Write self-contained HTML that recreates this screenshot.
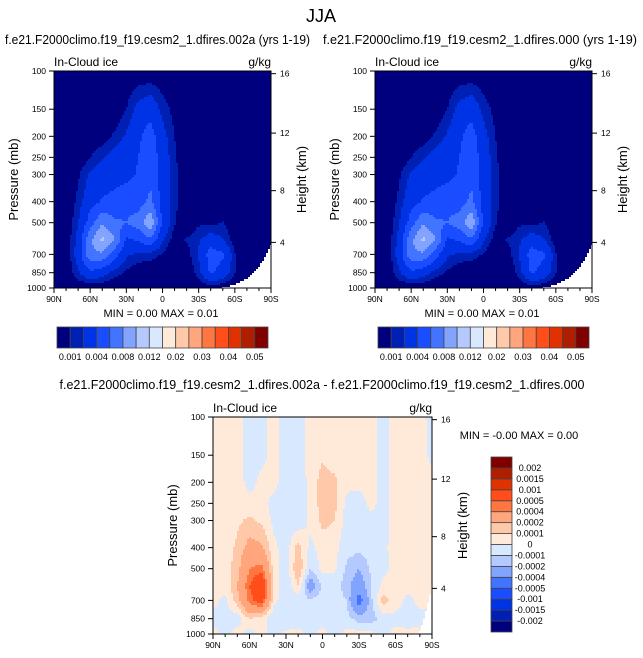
<!DOCTYPE html>
<html><head><meta charset="utf-8">
<style>
html,body{margin:0;padding:0;background:#fff;}
svg{display:block;font-family:"Liberation Sans",Arial,sans-serif;}
</style></head>
<body>
<svg id="chart" width="643" height="658" viewBox="0 0 643 658">
<text x="321" y="22" font-size="18" text-anchor="middle">JJA</text>
<g id="root"></g>
</svg>
<script>
// ---- data ----
const lats = [90,80,70,60,50,40,30,20,10,0,-10,-20,-30,-40,-50,-60,-70,-80,-90];
const levels = [100,150,200,250,300,400,500,600,700,850,1000];
// In-cloud ice, units of 1e-3 g/kg (rows = levels, cols = lats)
const iceField = [
 [0,0,0,0,0,0,0,0,0,0,0,0,0,0,0,0,0,0,0],
 [0,0,0,0,0,0,1.0,2.6,3.2,1.6,0.6,0,0,0,0,0,0,0,0],
 [0,0,0,0,0.4,1.2,2.2,3.6,5.0,2.6,1.0,0,0,0,0,0,0,0,0],
 [0,0,0,1.0,1.8,2.6,3.2,4.0,5.4,3.0,1.2,0,0,0,0,0,0,0,0],
 [0,0,0.8,2.2,3.0,3.2,3.4,4.2,5.4,3.0,1.4,0,0,0,0,0,0,0,0],
 [0,0,1.3,3.2,4.2,4.6,5.4,5.0,6.6,3.2,1.4,0,0,0,0,0,0,0,0],
 [0,0,1.9,5.0,7.8,6.4,6.0,7.0,9.8,3.6,1.1,0,0.8,0.6,1.1,0,0,0,0],
 [0,0,2.6,7.6,10.5,8.2,3.6,4.2,5.6,2.2,0.4,1.1,1.8,2.9,2.1,0.4,0,0,0],
 [0,0,2.8,7.6,7.6,5.0,2.2,1.8,1.5,0.9,0,0.4,2.2,5.0,4.3,1.1,0,0,0],
 [0,0,1.8,3.6,2.8,1.5,0.8,0,0,0,0,0,1.5,4.3,3.2,1.1,0,0,0],
 [0,0,0,0,0,0,0,0,0,0,0,0,0,0.4,0,0,0,0,0]
];
// Difference, units of 1e-4 g/kg
const diffField = [
 [0.5,0.5,0.5,-0.5,-0.5,0.5,-0.5,-0.5,0.5,0.5,0.5,0.5,0.5,0.5,-0.5,0.5,0.5,0.5,-0.5],
 [0.5,0.5,0.4,-0.5,-0.3,0.3,-0.5,-0.6,0.5,0.8,0.5,0.5,0.5,0.4,-0.5,0.5,0.5,0.5,-0.3],
 [0.5,0.5,0.5,-0.4,0.3,0.3,-0.5,-0.6,0.3,1.5,1.2,0.3,0.3,0.4,-0.5,0.5,0.5,0.5,0.5],
 [0.5,0.5,0.6,0.4,0.3,-0.3,-0.6,-0.8,0.2,1.5,1.3,-0.3,-0.5,0.3,-0.4,0.5,0.5,0.5,0.5],
 [0.5,0.5,0.8,1.2,0.8,-0.3,-0.6,-0.8,0.3,1.3,1.0,-0.5,-0.6,-0.3,-0.4,0.5,0.5,0.5,0.5],
 [0.5,0.5,1.2,2.5,2.2,0.3,-0.6,1.5,-0.3,0.5,0.3,-0.6,-0.7,-0.5,-0.3,0.5,0.5,0.5,0.5],
 [0.5,0.5,1.5,4.0,4.5,0.5,-0.7,2.0,-1.0,0.3,0.2,-1.2,-2.0,-0.8,-0.3,0.4,0.5,0.5,0.5],
 [0.5,0.3,2.0,5.0,7.0,0.5,-0.8,1.0,-3.0,-0.8,-0.6,-1.5,-3.0,-1.0,0.3,0.3,0.4,0.5,0.3],
 [0.3,-0.3,1.5,4.5,6.0,0.3,-0.6,-0.6,-0.8,-0.5,-0.5,-1.0,-5.0,-1.2,1.5,0.5,-0.3,0.3,0.3],
 [-0.3,-0.4,-0.5,1.0,0.5,-0.8,-1.0,-0.8,-0.5,-0.4,-0.5,-0.6,-1.5,-1.5,-0.5,-0.3,-0.5,-0.4,-0.4],
 [0.3,-0.4,0.5,-0.5,0.4,-0.5,0.3,0.4,-0.3,0.3,-0.4,0.3,0.5,0.3,-0.3,0.3,0.3,0.3,0.3]
];
const iceSurface  = [1000,1000,1000,1000,1000,1000,1000,1000,1000,1000,1000,1000,1000,1000,1000,960,905,800,640];
const diffSurface = [1000,1000,1000,1000,1000,1000,1000,1000,1000,1000,1000,1000,1000,1000,1000,1000,1000,980,600];
const iceBounds  = [1,2,4,6,8,10,12,15,20,25,30,35,40,45,50];
const iceBoundLabels = ["0.001","0.004","0.008","0.012","0.02","0.03","0.04","0.05"];
const diffBounds = [-20,-15,-10,-5,-4,-2,-1,0,1,2,4,5,10,15,20];
const diffBoundLabels = ["-0.002","-0.0015","-0.001","-0.0005","-0.0004","-0.0002","-0.0001","0","0.0001","0.0002","0.0004","0.0005","0.001","0.0015","0.002"];
const palette = ["#00007f","#0020b4","#0032e6","#1a4dff","#4274ff","#82a4ff","#b4caff","#d8e8ff","#ffead9","#ffc8a8","#ffa67c","#ff7640","#ff4e1a","#e03200","#b01e00","#800000"];
const pressureTicks = [100,150,200,250,300,400,500,700,850,1000];
const heightTicks = [4,8,12,16];
const latTicks = [90,60,30,0,-30,-60,-90];

// ---- helpers ----
const NS = "http://www.w3.org/2000/svg";
const root = document.getElementById("root");
function mk(tag, attrs, parent){
  const e = document.createElementNS(NS, tag);
  for (const k in attrs) e.setAttribute(k, attrs[k]);
  (parent||root).appendChild(e);
  return e;
}
function txt(x,y,s,size,anchor,parent,name){
  const t = mk("text",{x:x,y:y,"font-size":size,"text-anchor":anchor||"start"},parent);
  t.textContent = s;
  
  
  return t;
}
function latLabel(l){ return l===0 ? "0" : (Math.abs(l) + (l>0?"N":"S")); }
function stdP(zkm){
  const z = zkm*1000;
  if (z < 11000) return 1013.25*Math.pow(1-2.25577e-5*z,5.2559);
  return 226.32*Math.exp(-(z-11000)/6341.6);
}
function interp1(arr, lat){
  const fi = (90-lat)/10; const i = Math.min(Math.floor(fi), arr.length-2); const t = fi-i;
  return arr[i]*(1-t)+arr[i+1]*t;
}
function sample(field, lat, p){
  const fi = (90-lat)/10; let i = Math.min(Math.floor(fi), lats.length-2); const t = fi-i;
  const lp = Math.log(p);
  let j = 0;
  while (j < levels.length-2 && Math.log(levels[j+1]) < lp) j++;
  const u = (lp-Math.log(levels[j]))/(Math.log(levels[j+1])-Math.log(levels[j]));
  const a = field[j][i]*(1-t)+field[j][i+1]*t;
  const b = field[j+1][i]*(1-t)+field[j+1][i+1]*t;
  return a*(1-u)+b*u;
}
function colorIndex(v, bounds){ let c=0; for (const b of bounds) if (v>=b) c++; return c; }

function drawPlot(name, x0, y0, w, h, field, bounds, surface){
  const g = mk("g",{});
  
  
  const xs = lat => x0 + (90-lat)/180*w;
  const ys = p => y0 + Math.log10(p/100)*h;
  const cell = 2;
  const cells = mk("g",{"shape-rendering":"crispEdges"},g);
  
  
  for (let py=0; py<h; py+=cell){
    const p = 100*Math.pow(10,(py+cell/2)/h);
    let runStart=0, runC=null;
    const flush=(end)=>{
      if (runC!==null && runC>=0){
        const r = mk("rect",{x:x0+runStart,y:y0+py,width:end-runStart,height:Math.min(cell,h-py),fill:palette[runC]},cells);
        
        
      }
    };
    for (let px=0; px<w; px+=cell){
      const lat = 90-(px+cell/2)/w*180;
      let c;
      if (p > interp1(surface, lat)) c = -1;
      else c = colorIndex(sample(field, lat, p), bounds);
      if (c!==runC){ flush(px); runStart=px; runC=c; }
    }
    flush(w);
  }
  const fr = mk("rect",{x:x0,y:y0,width:w,height:h,fill:"none",stroke:"#000","stroke-width":1},g);
  
  
  for (const p of pressureTicks){
    const y = ys(p);
    const tk = mk("line",{x1:x0-5,x2:x0,y1:y,y2:y,stroke:"#000"},g);
    
    
    txt(x0-8,y+3,String(p),8.5,"end",g,'pressure-tick-label');
  }
  for (const z of heightTicks){
    const y = ys(stdP(z));
    const tk = mk("line",{x1:x0+w,x2:x0+w+5,y1:y,y2:y,stroke:"#000"},g);
    
    
    txt(x0+w+9,y+3,String(z),8.5,"start",g,'height-tick-label');
  }
  for (let l=90; l>=-90; l-=10){
    const x = xs(l);
    const major = l%30===0;
    const tk = mk("line",{x1:x,x2:x,y1:y0+h,y2:y0+h+(major?5:3),stroke:"#000"},g);
    
    
  }
  for (const l of latTicks) txt(xs(l),y0+h+14,latLabel(l),8.5,"middle",g,'latitude-tick-label');
  txt(x0,y0-5,"In-Cloud ice",12,"start",g,'variable-label');
  txt(x0+w,y0-5,"g/kg",12,"end",g,'units-label');
  const ya = txt(0,0,"Pressure (mb)",13,"middle",g,'y-axis-title');
  ya.setAttribute("transform",`translate(${x0-36},${y0+h/2}) rotate(-90)`);
  const yb = txt(0,0,"Height (km)",13,"middle",g,'height-axis-title');
  yb.setAttribute("transform",`translate(${x0+w+35},${y0+h/2}) rotate(-90)`);
}

function hColorbar(x0,y0,w,h){
  const g = mk("g",{});
  
  
  const bw = w/palette.length;
  palette.forEach((c,i)=>{
    const r = mk("rect",{x:x0+i*bw,y:y0,width:bw,height:h,fill:c,stroke:"#444","stroke-width":0.8},g);
    
    
  });
  iceBoundLabels.forEach((s,k)=>{
    txt(x0+(2*k+1)*bw,y0+h+12,s,9,"middle",g,'colorbar-label');
  });
}
function vColorbar(x0,y0,w,h){
  const g = mk("g",{});
  
  
  const bh = h/palette.length;
  palette.forEach((c,i)=>{
    const r = mk("rect",{x:x0,y:y0+h-(i+1)*bh,width:w,height:bh,fill:c,stroke:"#444","stroke-width":0.8},g);
    
    
  });
  diffBoundLabels.forEach((s,k)=>{
    txt(x0+w+18,y0+h-(k+1)*bh+3,s,9,"middle",g,'colorbar-label');
  });
}

// ---- panels ----
const t1 = txt(5,44,"f.e21.F2000climo.f19_f19.cesm2_1.dfires.002a (yrs 1-19)",12.5,"start",root,'left-panel-title');
t1.setAttribute("textLength","305"); t1.setAttribute("lengthAdjust","spacingAndGlyphs");
const t2 = txt(323,44,"f.e21.F2000climo.f19_f19.cesm2_1.dfires.000 (yrs 1-19)",12.5,"start",root,'right-panel-title');
t2.setAttribute("textLength","314"); t2.setAttribute("lengthAdjust","spacingAndGlyphs");
drawPlot("left-plot",54,71,217,217,iceField,iceBounds,iceSurface);
drawPlot("right-plot",375,71,217,217,iceField,iceBounds,iceSurface);
txt(161,317,"MIN =   0.00  MAX =   0.01",11,"middle",root,'left-min-max');
txt(482,317,"MIN =   0.00  MAX =   0.01",11,"middle",root,'right-min-max');
hColorbar(57,327,211,21);
hColorbar(378,327,211,21);
const t3 = txt(322,389,"f.e21.F2000climo.f19_f19.cesm2_1.dfires.002a - f.e21.F2000climo.f19_f19.cesm2_1.dfires.000",12.5,"middle",root,'diff-panel-title');
t3.setAttribute("textLength","525"); t3.setAttribute("lengthAdjust","spacingAndGlyphs");
drawPlot("diff-plot",213,417,219,217,diffField,diffBounds,diffSurface);
txt(519,439,"MIN =  -0.00  MAX =   0.00",11,"middle",root,'diff-min-max');
vColorbar(491,457,21,175);
</script>
</body></html>
